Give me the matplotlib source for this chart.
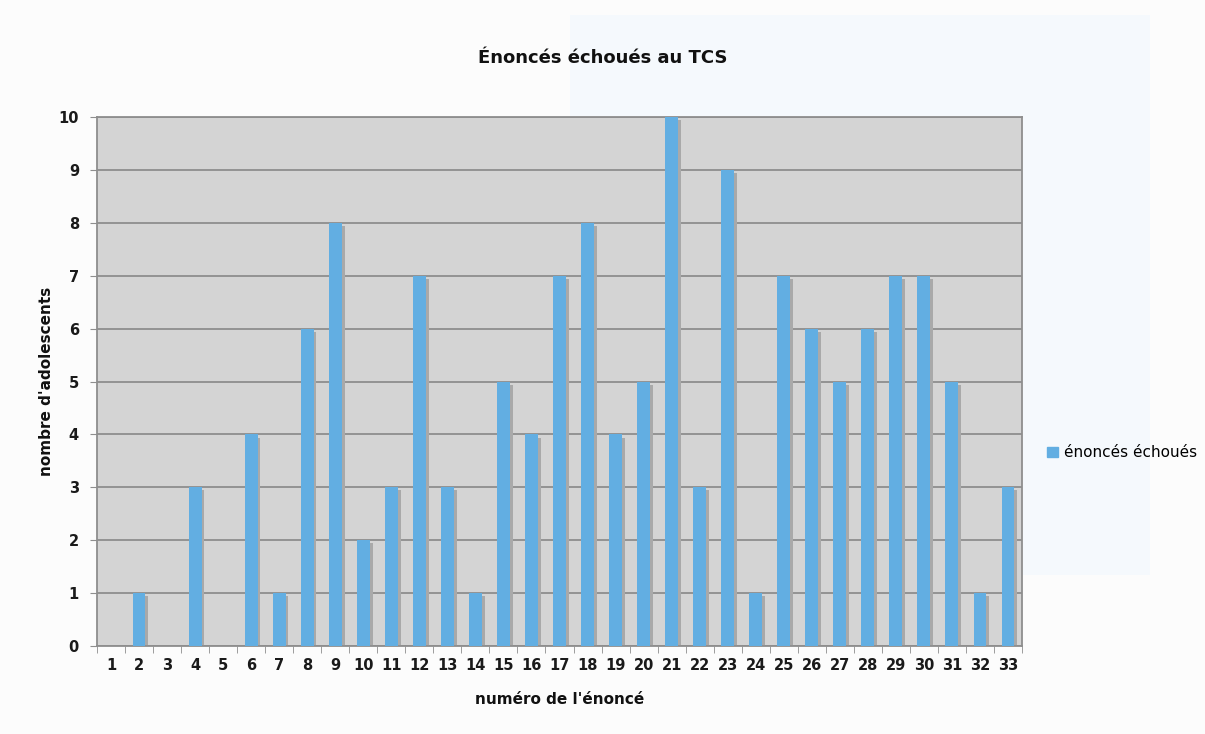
import matplotlib.pyplot as plt
from matplotlib.patches import Rectangle, Patch

# Data
enonces = list(range(1, 34))
echoues = [0, 1, 0, 3, 0, 4, 1, 6, 8, 2, 3, 7, 3, 1, 5, 4, 7, 8, 4, 5,
           10, 3, 9, 1, 7, 6, 5, 6, 7, 7, 5, 1, 3]

bar_color = '#62aee2'
shadow_color = '#a9a9a9'
grid_color = '#8e8e8e'

fig = plt.figure(figsize=(12.05, 7.34), dpi=100, facecolor='#fcfcfc')
# faint pale-blue panel behind the right part of the chart
fig.patches.append(Rectangle((570 / 1205, 1 - 575 / 734), 580 / 1205, 560 / 734,
                             transform=fig.transFigure, facecolor='#f5f9fd',
                             edgecolor='none', zorder=-1))

ax = fig.add_axes([97 / 1205, 1 - 646 / 734, 925 / 1205, 529 / 734])
ax.set_zorder(2)
ax.set_facecolor('#d4d4d4')

# shadow then bar
ax.bar([x + 0.1 for x in enonces], [max(v - 0.06, 0) for v in echoues],
       width=0.46, color=shadow_color, zorder=2)
ax.bar(enonces, echoues, width=0.46, color=bar_color, zorder=3,
       label='énoncés échoués')

ax.set_xlim(0.5, 33.5)
ax.set_ylim(0, 10)
ax.set_yticks(range(0, 11))
ax.set_xticks(enonces)
ax.set_xticks([x + 0.5 for x in range(0, 34)], minor=True)
ax.tick_params(axis='x', which='major', length=0, pad=9, labelsize=10.5)
ax.tick_params(axis='x', which='minor', length=5, color=grid_color, direction='out')
ax.tick_params(axis='y', length=5, color=grid_color, pad=8, labelsize=10.5)
for lab in ax.get_xticklabels() + ax.get_yticklabels():
    lab.set_fontweight('bold')
    lab.set_color('#1a1a1a')

ax.grid(axis='y', color=grid_color, linewidth=1.3, zorder=1)
ax.set_axisbelow(True)
for side in ['left', 'bottom', 'top', 'right']:
    ax.spines[side].set_color(grid_color)
    ax.spines[side].set_linewidth(1.3)

fig.text(0.5, 1 - 58 / 734, 'Énoncés échoués au TCS',
         ha='center', va='center', fontsize=13, fontweight='bold', color='#111111')
fig.text(0.5 * (97 + 1022) / 1205, 1 - 700 / 734, "numéro de l'énoncé",
         ha='center', va='center', fontsize=11, fontweight='bold', color='#111111')
fig.text(47 / 1205, 1 - 381 / 734, "nombre d'adolescents", rotation=90,
         ha='center', va='center', fontsize=11, fontweight='bold', color='#111111')

fig.legend(handles=[Patch(color=bar_color, label='énoncés échoués')],
           loc='center left', bbox_to_anchor=(1047 / 1205, 1 - 453 / 734),
           frameon=False, handlelength=0.7, handleheight=0.7, handletextpad=0.4,
           fontsize=11, borderaxespad=0, borderpad=0)

fig.savefig('out.png', dpi=100, facecolor=fig.get_facecolor())
